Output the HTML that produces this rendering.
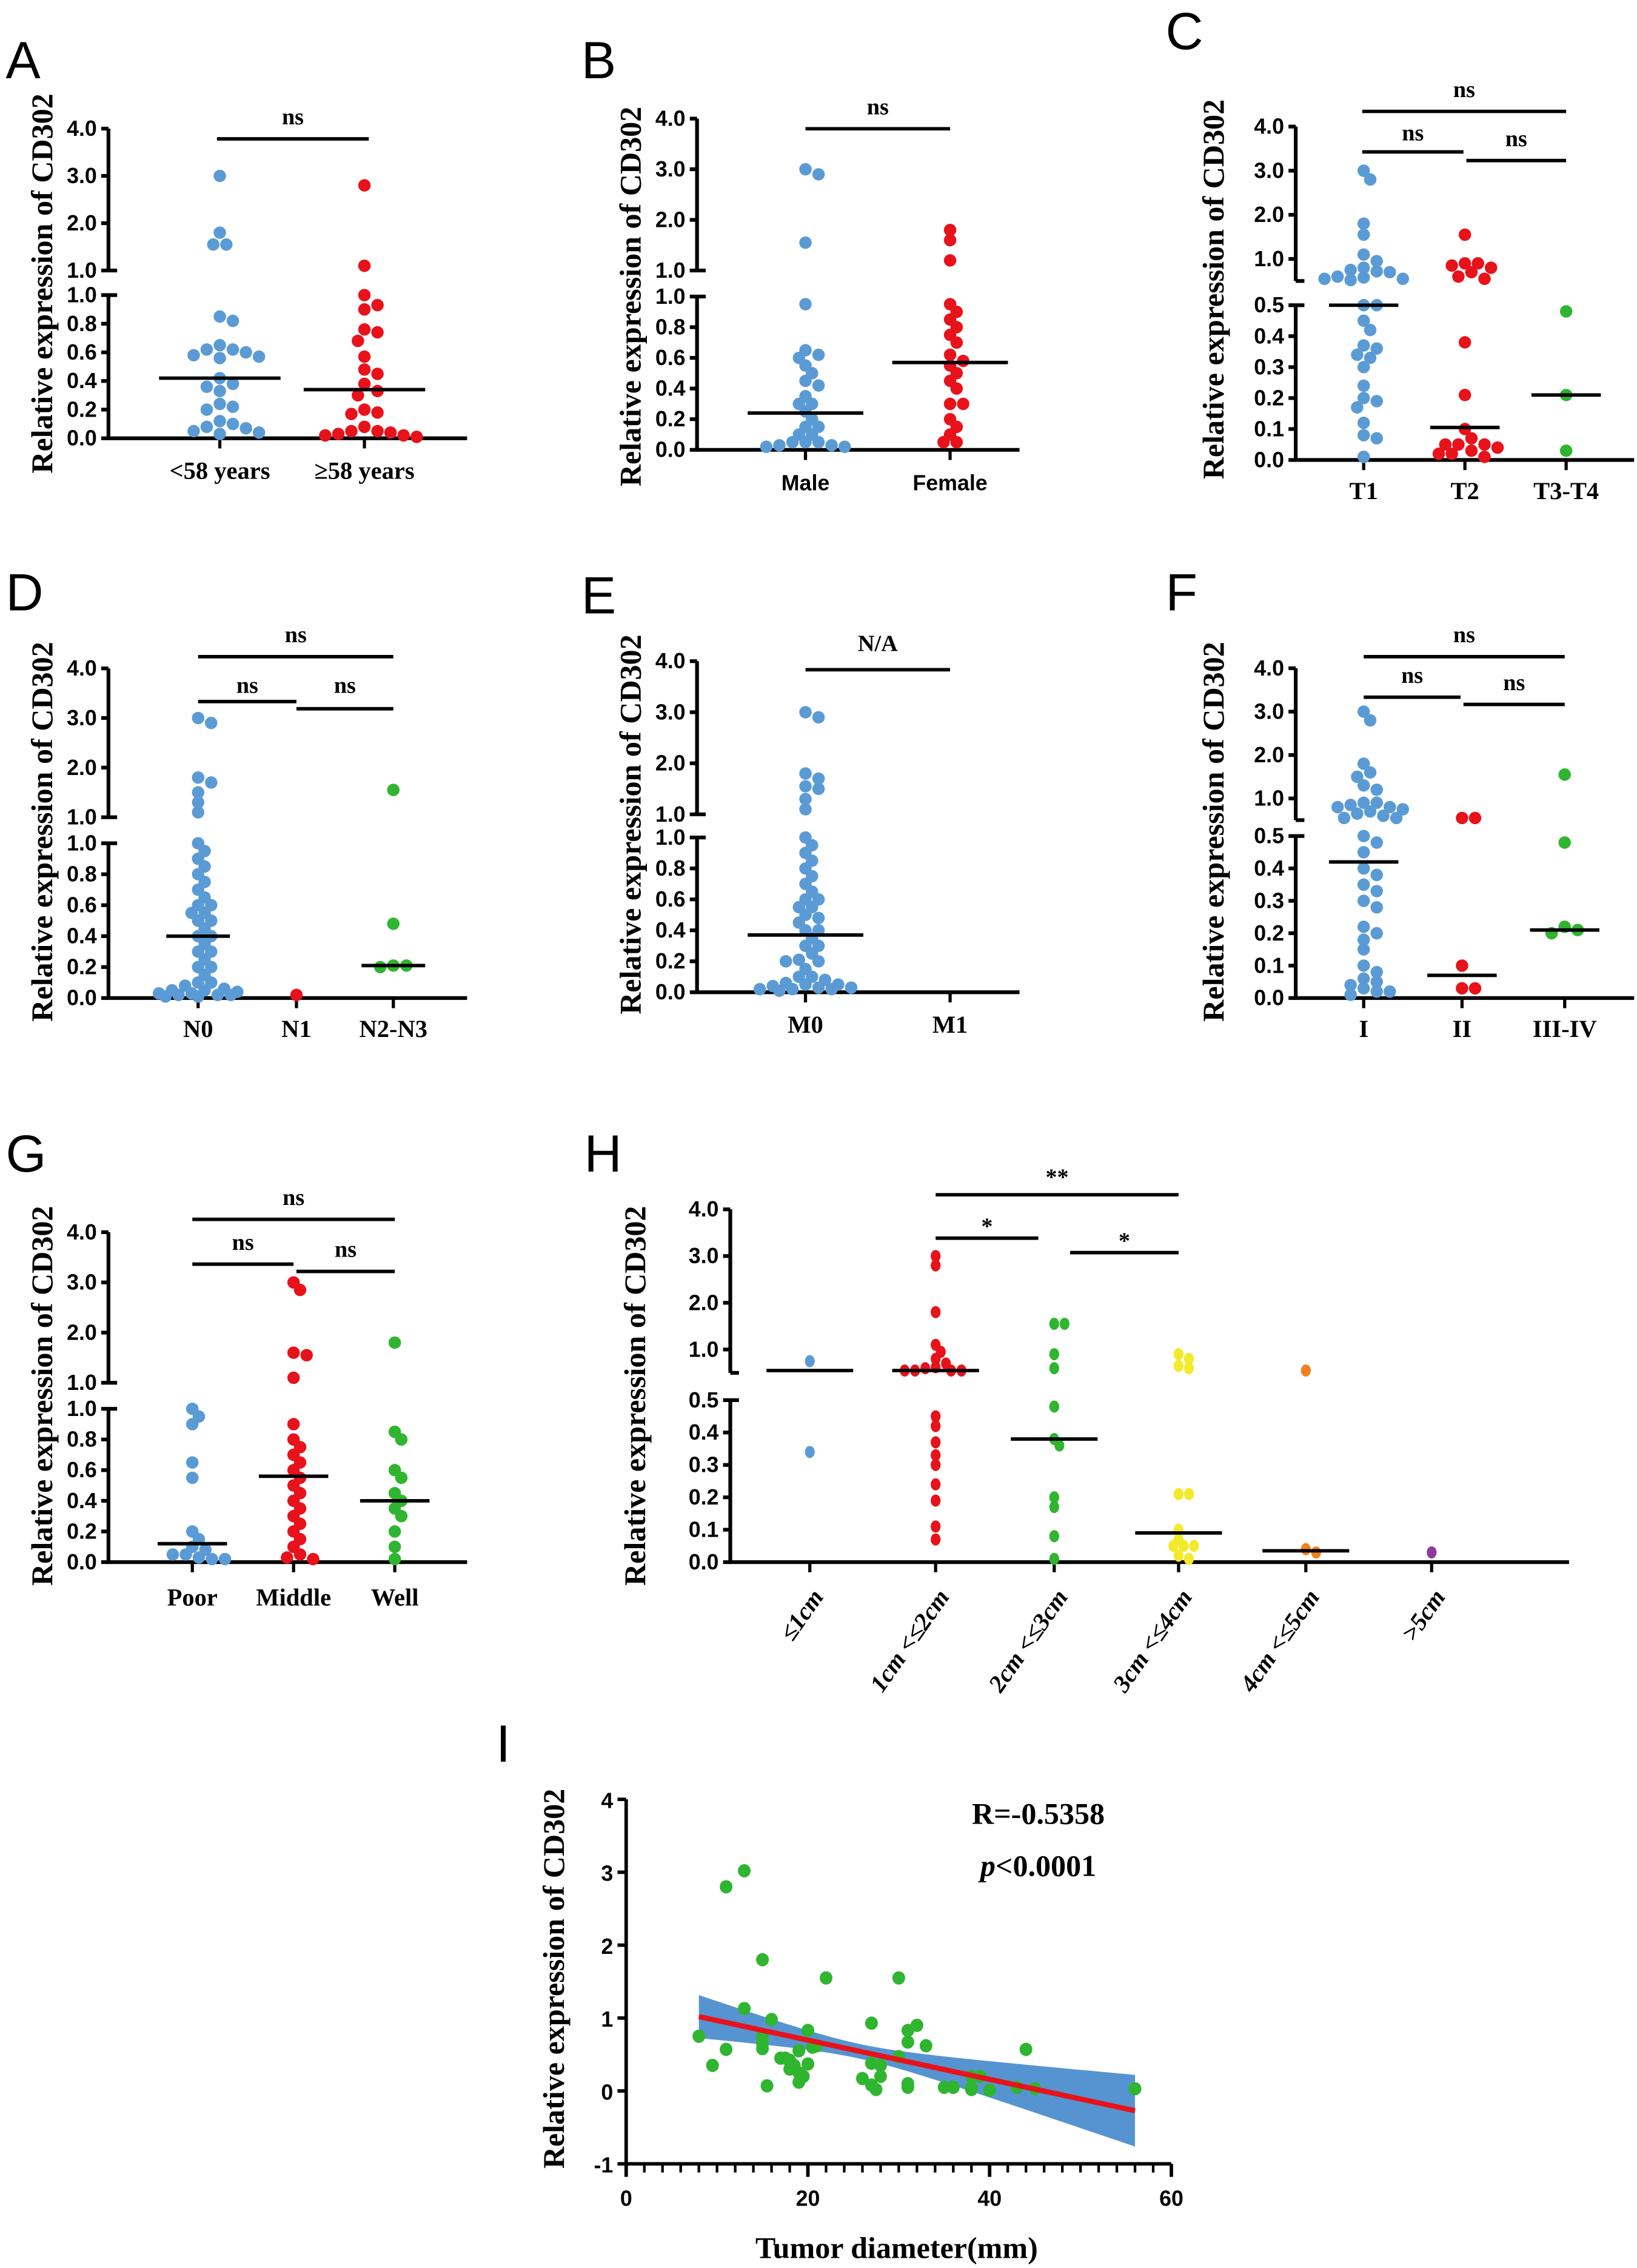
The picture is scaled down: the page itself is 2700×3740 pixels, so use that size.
<!DOCTYPE html>
<html><head><meta charset="utf-8"><style>
html,body{margin:0;padding:0;background:#fff}
svg{display:block}
.tk{font-family:"Liberation Sans",sans-serif;font-weight:bold;font-size:15px}
.yt{font-family:"Liberation Serif",serif;font-weight:bold;font-size:21px}
.ct{font-family:"Liberation Serif",serif;font-weight:bold;font-size:17px}
.lt{font-family:"Liberation Sans",sans-serif;font-size:36px}
.sg{font-family:"Liberation Serif",serif;font-weight:bold;font-size:16px}
</style></head><body>
<svg id="fig" xmlns="http://www.w3.org/2000/svg" width="2700" height="3740" viewBox="0 0 1132 1568"></svg>
<script>
// ---------- data ----------
const A_cats=["<58 years","≥58 years"];
const A_young=[3.0,1.8,1.55,1.55,0.85,0.82,0.65,0.62,0.62,0.6,0.58,0.57,0.56,0.42,0.38,0.36,0.33,0.24,0.22,0.2,0.12,0.1,0.08,0.07,0.05,0.04,0.03];
const A_old=[2.8,1.1,1.0,0.93,0.9,0.76,0.74,0.68,0.57,0.48,0.45,0.38,0.33,0.3,0.2,0.18,0.17,0.08,0.05,0.05,0.04,0.03,0.02,0.02,0.01];
const A_median=[0.42,0.34];
const B_cats=["Male","Female"];
const B_male=[3.0,2.9,1.55,0.95,0.65,0.62,0.6,0.55,0.5,0.45,0.42,0.35,0.3,0.3,0.25,0.2,0.15,0.1,0.05,0.05,0.05,0.03,0.03,0.02,0.02,0.1,0.15];
const B_female=[1.8,1.6,1.2,0.95,0.9,0.85,0.8,0.75,0.7,0.62,0.58,0.55,0.5,0.45,0.4,0.3,0.2,0.15,0.1,0.05,0.05,0.3];
const B_median=[0.24,0.57];
const C_cats=["T1","T2","T3-T4"];
const C_t1=[3.0,2.8,1.8,1.55,1.1,0.95,0.8,0.75,0.72,0.7,0.6,0.58,0.55,0.55,0.52,0.5,0.5,0.45,0.42,0.37,0.36,0.34,0.33,0.3,0.24,0.2,0.19,0.17,0.12,0.08,0.07,0.01];
const C_t2=[1.55,0.9,0.9,0.85,0.8,0.7,0.6,0.55,0.38,0.21,0.1,0.07,0.05,0.05,0.05,0.04,0.03,0.02,0.02,0.01];
const C_t34=[0.48,0.21,0.03];
const C_median=[0.5,0.105,0.21];
const D_cats=["N0","N1","N2-N3"];
const D_n0=[3.0,2.9,1.8,1.7,1.5,1.3,1.1,1.0,0.95,0.9,0.85,0.8,0.75,0.7,0.65,0.6,0.6,0.55,0.55,0.5,0.5,0.45,0.4,0.4,0.35,0.3,0.3,0.25,0.2,0.2,0.15,0.1,0.1,0.08,0.06,0.05,0.05,0.04,0.03,0.03,0.02,0.02,0.02,0.01,0.01];
const D_n1=[0.02];
const D_n23=[1.55,0.48,0.21,0.21,0.2];
const D_median=[0.4,null,0.21];
const E_cats=["M0","M1"];
const E_m0=[3.0,2.9,1.8,1.7,1.55,1.5,1.3,1.1,1.0,0.95,0.9,0.85,0.8,0.75,0.7,0.65,0.6,0.6,0.55,0.55,0.5,0.48,0.45,0.4,0.4,0.35,0.3,0.3,0.25,0.21,0.2,0.2,0.15,0.1,0.1,0.08,0.06,0.05,0.05,0.04,0.03,0.03,0.02,0.02,0.02,0.01];
const E_m1=[];
const E_median=[0.37,null];
const F_cats=["I","II","III-IV"];
const F_i=[3.0,2.8,1.8,1.6,1.5,1.3,1.2,0.9,0.9,0.85,0.8,0.8,0.75,0.7,0.65,0.6,0.55,0.55,0.5,0.48,0.45,0.4,0.38,0.35,0.33,0.3,0.28,0.22,0.2,0.18,0.15,0.1,0.08,0.06,0.05,0.04,0.03,0.02,0.02,0.01];
const F_ii=[0.55,0.55,0.1,0.03,0.03];
const F_iii=[1.55,0.48,0.22,0.21,0.2];
const F_median=[0.42,0.07,0.21];
const G_cats=["Poor","Middle","Well"];
const G_poor=[1.0,0.95,0.9,0.65,0.55,0.2,0.15,0.1,0.08,0.05,0.05,0.03,0.02,0.02];
const G_mid=[3.0,2.85,1.6,1.55,1.1,0.9,0.8,0.75,0.7,0.65,0.6,0.55,0.5,0.45,0.4,0.35,0.3,0.25,0.2,0.15,0.1,0.05,0.03,0.02];
const G_well=[1.8,0.85,0.8,0.6,0.55,0.45,0.4,0.35,0.3,0.2,0.1,0.02];
const G_median=[0.12,0.56,0.4];
const H_cats=["≤1cm","1cm <≤2cm","2cm <≤3cm","3cm <≤4cm","4cm <≤5cm",">5cm"];
const H_g1=[0.75,0.34];
const H_g2=[3.0,2.8,1.8,1.1,0.95,0.8,0.7,0.62,0.6,0.55,0.55,0.55,0.55,0.45,0.42,0.37,0.33,0.3,0.24,0.19,0.11,0.07];
const H_g3=[1.55,1.55,0.9,0.6,0.48,0.38,0.36,0.2,0.17,0.08,0.01];
const H_g4=[0.9,0.8,0.65,0.6,0.21,0.21,0.1,0.07,0.05,0.05,0.05,0.02,0.01];
const H_g5=[0.55,0.04,0.03];
const H_g6=[0.03];
const H_median=[0.55,0.55,0.38,0.09,0.035,null];
const I_diam=[8,9.5,11,11,13,13,15,15,15,15,15.5,16,17,17.5,18,18,18.5,19,19,19,19.5,20,20,20.5,21,22,26,27,27,27,27.5,28,28,30,30,31,31,31,31,32,33,35,36,36,38,38,38,39,40,43,44,45,56];
const I_expr=[0.75,0.35,0.57,2.8,3.02,1.13,1.8,0.75,0.65,0.58,0.07,0.98,0.45,0.45,0.42,0.3,0.35,0.55,0.25,0.12,0.2,0.83,0.37,0.6,0.62,1.55,0.17,0.93,0.38,0.08,0.02,0.35,0.2,1.55,0.47,0.83,0.67,0.1,0.05,0.9,0.62,0.05,0.05,0.05,0.2,0.05,0.02,0.2,0.01,0.05,0.57,0.03,0.03];
const I_fit=[1.235,-0.0269]; // intercept, slope
const I_yTicks=[-1,0,1,2,3,4];
const I_xTicks=[0,20,40,60];

// ---------- drawing ----------
const svg=document.getElementById('fig');
const NS='http://www.w3.org/2000/svg';
function mk(tag,attrs,parent){const e=document.createElementNS(NS,tag);for(const k in attrs)e.setAttribute(k,attrs[k]);(parent||svg).appendChild(e);return e;}
function txt(s,x,y,cls,anchor,parent,extra){const t=mk('text',Object.assign({x:x,y:y,class:cls,'text-anchor':anchor||'middle'},extra||{}),parent);t.textContent=s;return t;}
const COLORS={blue:'#5b9bd5',red:'#e8121b',green:'#2fb52f',yellow:'#f3ea2a',orange:'#f0801e',purple:'#8f3a98'};

function panel(c){
  const g=mk('g',{});
  
  
  const yFor=v=>v<=c.lowMax? c.y0-(v/c.lowMax)*(c.y0-c.lowTop) : c.up1-(v-1)*c.upStep;
  const L=txt(c.id,c.lx,c.ly,'lt','start',g);
  
  const ax=mk('g',{stroke:'#000','stroke-width':2.6,fill:'none'},g);
  
  mk('line',{x1:c.ax,y1:c.y0,x2:c.ax,y2:c.lowTop},ax);
  const upB=yFor(c.upBottom+0.0001);
  mk('line',{x1:c.ax,y1:upB,x2:c.ax,y2:yFor(4)},ax);
  mk('line',{x1:c.ax,y1:upB,x2:c.ax+6,y2:upB},ax);
  mk('line',{x1:c.ax,y1:c.lowTop,x2:c.ax+6,y2:c.lowTop},ax);
  c.lowTicks.forEach(v=>{const y=yFor(v);mk('line',{x1:c.ax-5,y1:y,x2:c.ax,y2:y},ax);
    txt(v.toFixed(1),c.ax-8,y+5,'tk','end',g);});
  c.upTicks.forEach(v=>{const y=c.up1-(v-1)*c.upStep;mk('line',{x1:c.ax-5,y1:y,x2:c.ax,y2:y},ax);
    txt(v.toFixed(1),c.ax-8,y+5,'tk','end',g);});
  const xa=mk('line',{x1:c.ax-1,y1:c.y0,x2:c.x1,y2:c.y0,stroke:'#000','stroke-width':2.6},g);
  
  const yt=txt('Relative expression of CD302',0,0,'yt','middle',g,{transform:`translate(${c.ytx},${c.yty}) rotate(-90)`});
  
  const r=c.r||4.3;
  const maxW=c.maxW||28;
  c.groups.forEach((vals,i)=>{
    const cx=c.cats[i];
    mk('line',{x1:cx,y1:c.y0,x2:cx,y2:c.y0+7,stroke:'#000','stroke-width':2.2},g);
    let lab;
    if(c.rot){lab=txt(c.names[i],0,0,'ct','end',g,{transform:`translate(${cx+10},${c.y0+24}) rotate(-55)`,'font-style':'italic','font-size':18});}
    else lab=txt(c.names[i],cx,c.cly,c.clcls||'ct','middle',g);
    
    const placed=[];
    const sorted=vals.slice().sort((a,b)=>b-a);
    const minD=c.minD||1.55*r;
    sorted.forEach(v=>{
      const y=yFor(v);let dx=null,best=-1,bestDx=0;
      for(let k=0;k<60;k++){const cand=(k%2?1:-1)*Math.ceil(k/2)*r*1.05;
        if(Math.abs(cand)>maxW)break;
        const md=placed.reduce((m,p)=>Math.min(m,Math.hypot(p[0]-(cx+cand),p[1]-y)),1e9);
        if(md>=minD){dx=cand;break;}
        if(md>best){best=md;bestDx=cand;}}
      if(dx===null)dx=bestDx;
      placed.push([cx+dx,y]);
      const d=mk('ellipse',{cx:cx+dx,cy:y,rx:r,ry:c.ry||r,fill:c.colors[i]},g);
      
    });
    const m=c.median[i];
    if(m!==null&&m!==undefined){const my=yFor(m);
      const ml=mk('line',{x1:cx-c.half,y1:my,x2:cx+c.half,y2:my,stroke:'#000','stroke-width':2.4},g);
      }
  });
  c.brackets.forEach(b=>{
    const bl=mk('line',{x1:b[0],y1:b[2],x2:b[1],y2:b[2],stroke:'#000','stroke-width':2.4},g);
    
    const st=txt(b[3],(b[0]+b[1])/2,b[2]-b[4],'sg','middle',g);
    
  });
}
const L1=[0,0.2,0.4,0.6,0.8,1.0],L5=[0,0.1,0.2,0.3,0.4,0.5],U=[1,2,3,4];
panel({id:'A',lx:4,ly:54,ax:75,x1:323,y0:303,lowMax:1,lowTop:204,up1:187,upStep:32.7,upBottom:1,lowTicks:L1,upTicks:U,
  cats:[152,252],names:A_cats,groups:[A_young,A_old],median:A_median,colors:[COLORS.blue,COLORS.red],half:42,cly:331,ytx:36,yty:196,
  brackets:[[150,255,96,'ns',10]],minD:8.4,maxW:40});
panel({id:'B',lx:402,ly:54,ax:482,x1:705,y0:311,lowMax:1,lowTop:205,up1:187,upStep:35,upBottom:1,lowTicks:L1,upTicks:U,
  cats:[557,657],names:B_cats,groups:[B_male,B_female],median:B_median,colors:[COLORS.blue,COLORS.red],half:40,cly:339,clcls:'tk',ytx:443,yty:205,
  brackets:[[557,657,89,'ns',10]],maxW:32});
panel({id:'C',lx:806,ly:34,ax:896,x1:1130,y0:318,lowMax:0.5,lowTop:211,up1:179,upStep:30.5,upBottom:0.5,lowTicks:L5,upTicks:U,
  cats:[943,1013,1083],names:C_cats,groups:[C_t1,C_t2,C_t34],median:C_median,colors:[COLORS.blue,COLORS.red,COLORS.green],half:24,cly:345,ytx:846,yty:200,
  brackets:[[942,1083,77,'ns',10],[942,1012,105,'ns',8],[1014,1083,111,'ns',10]]});
panel({id:'D',lx:4,ly:422,ax:75,x1:323,y0:690,lowMax:1,lowTop:583,up1:565,upStep:34.3,upBottom:1,lowTicks:L1,upTicks:U,
  cats:[137,205,272],names:D_cats,groups:[D_n0,D_n1,D_n23],median:D_median,colors:[COLORS.blue,COLORS.red,COLORS.green],half:22,cly:717,ytx:36,yty:575,
  brackets:[[137,272,454,'ns',10],[137,205,485,'ns',6],[205,272,490,'ns',11]]});
panel({id:'E',lx:402,ly:424,ax:482,x1:705,y0:686,lowMax:1,lowTop:579,up1:563,upStep:35.3,upBottom:1,lowTicks:L1,upTicks:U,
  cats:[557,657],names:E_cats,groups:[E_m0,E_m1],median:E_median,colors:[COLORS.blue,COLORS.red],half:40,cly:714,ytx:443,yty:570,
  brackets:[[557,657,463,'N/A',13]],maxW:32});
panel({id:'F',lx:806,ly:422,ax:896,x1:1130,y0:690,lowMax:0.5,lowTop:578,up1:552,upStep:30,upBottom:0.5,lowTicks:L5,upTicks:U,
  cats:[943,1011,1082],names:F_cats,groups:[F_i,F_ii,F_iii],median:F_median,colors:[COLORS.blue,COLORS.red,COLORS.green],half:24,cly:717,ytx:846,yty:575,
  brackets:[[943,1082,454,'ns',10],[943,1010,482,'ns',10],[1012,1082,487,'ns',10]]});
panel({id:'G',lx:4,ly:810,ax:75,x1:323,y0:1080,lowMax:1,lowTop:974,up1:956,upStep:34.7,upBottom:1,lowTicks:L1,upTicks:U,
  cats:[133,203,273],names:G_cats,groups:[G_poor,G_mid,G_well],median:G_median,colors:[COLORS.blue,COLORS.red,COLORS.green],half:24,cly:1110,ytx:36,yty:965,
  brackets:[[133,273,843,'ns',10],[133,203,874,'ns',10],[205,273,879,'ns',10]]});
panel({id:'H',lx:404,ly:810,ax:505,x1:1085,y0:1080,lowMax:0.5,lowTop:968,up1:933,upStep:32.3,upBottom:0.5,lowTicks:L5,upTicks:U,r:3.4,ry:4.2,rot:true,
  cats:[560,647,729,815,903,990],names:H_cats,groups:[H_g1,H_g2,H_g3,H_g4,H_g5,H_g6],median:H_median,
  colors:[COLORS.blue,COLORS.red,COLORS.green,COLORS.yellow,COLORS.orange,COLORS.purple],half:30,ytx:446,yty:965,
  brackets:[[647,815,826,'**',7],[647,718,856,'*',3],[740,815,866,'*',3]]});

// ---------- panel I ----------
(function(){
  const g=mk('g',{});
  const X0=433,X1=810,Y0=1496,Ytop=1244;
  const xs=v=>X0+(v-I_xTicks[0])/(I_xTicks[3]-I_xTicks[0])*(X1-X0);
  const ys=v=>Y0-(v-I_yTicks[0])/(I_yTicks[5]-I_yTicks[0])*(Y0-Ytop);
  const L=txt('I',343,1218,'lt','start',g);
  const xmin=Math.min(...I_diam),xmax=Math.max(...I_diam);const mean=I_diam.reduce((a,b)=>a+b,0)/I_diam.length;
  const fit=x=>I_fit[0]+I_fit[1]*x; const hw=x=>Math.sqrt(0.01+Math.pow(0.0158*(x-mean),2));
  let up=[],lo=[];for(let i=0;i<=40;i++){const x=xmin+(xmax-xmin)*i/40;up.push(xs(x)+','+ys(fit(x)+hw(x)));lo.unshift(xs(x)+','+ys(fit(x)-hw(x)));}
  const band=mk('polygon',{points:up.concat(lo).join(' '),fill:'#5694d1'},g);
  
  I_diam.forEach((d,i)=>{const p=mk('ellipse',{cx:xs(d),cy:ys(I_expr[i]),rx:4.4,ry:4.6,fill:'#2fb52f'},g);
    });
  const rl=mk('line',{x1:xs(xmin),y1:ys(fit(xmin)),x2:xs(xmax),y2:ys(fit(xmax)),stroke:'#e8121b','stroke-width':3.6},g);
  
  const ax=mk('g',{stroke:'#000','stroke-width':2.4},g);
  mk('line',{x1:X0,y1:Y0,x2:X0,y2:Ytop},ax);mk('line',{x1:X0,y1:Y0,x2:X1,y2:Y0},ax);
  I_yTicks.forEach(v=>{mk('line',{x1:X0-6,y1:ys(v),x2:X0,y2:ys(v)},ax);txt(String(v),X0-9,ys(v)+6,'tk','end',g,{'font-size':17});});
  for(let v=0;v<=60;v+=2){const big=v%20===0;mk('line',{x1:xs(v),y1:Y0,x2:xs(v),y2:Y0+(big?9:6),'stroke-width':big?2.4:1.8},ax);}
  I_xTicks.forEach(v=>txt(String(v),xs(v),Y0+29,'tk','middle',g,{'font-size':17}));
  const xt=txt('Tumor diameter(mm)',620,1561,'yt','middle',g,{'font-size':23});
  const yt=txt('Relative expression of CD302',0,0,'yt','middle',g,{transform:'translate(390,1368) rotate(-90)','font-size':22});
  
  const r=txt('R=-0.5358',718,1261,'yt','middle',g,{'font-size':19});
  const p=mk('text',{x:718,y:1297,class:'yt','text-anchor':'middle','font-size':19},g);
  
  const pi=mk('tspan',{'font-style':'italic'},p);pi.textContent='p';const pr=mk('tspan',{},p);pr.textContent='<0.0001';
})();
</script>
</body></html>
